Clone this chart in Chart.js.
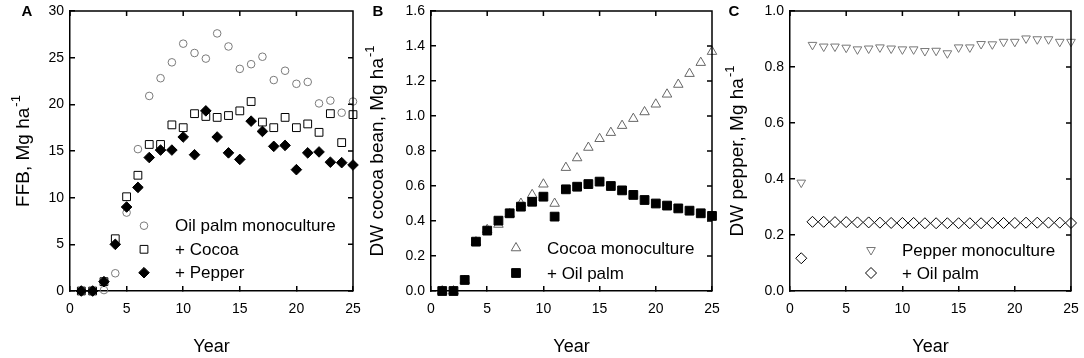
<!DOCTYPE html>
<html>
<head>
<meta charset="utf-8">
<script src="https://cdn.jsdelivr.net/npm/chart.js@4.4.1/dist/chart.umd.min.js"></script>
<style>
  body { margin: 0; background: #fff; }
  #wrap { position: relative; width: 1084px; height: 358px; overflow: hidden; }
  canvas { position: absolute; top: 0; }
</style>
</head>
<body>
<div id="wrap">
  <canvas id="chartA" width="361" height="358" style="left:0px"></canvas>
  <canvas id="chartB" width="359" height="358" style="left:361px"></canvas>
  <canvas id="chartC" width="359" height="358" style="left:720px"></canvas>
</div>
<script>
// 年份 (x)
let years = [1,2,3,4,5,6,7,8,9,10,11,12,13,14,15,16,17,18,19,20,21,22,23,24,25]
let xTicks = [0,5,10,15,20,25]

// A: FFB, Mg/ha
let palmMono   = [0,0,0.1,1.9,8.4,15.2,20.9,22.8,24.5,26.5,25.5,24.9,27.6,26.2,23.8,24.3,25.1,22.6,23.6,22.2,22.4,20.1,20.4,19.1,20.3]
let palmCocoa  = [0,0,1.0,5.6,10.1,12.4,15.7,15.7,17.8,17.5,19.0,18.7,18.6,18.8,19.3,20.3,18.1,17.5,18.6,17.5,17.9,17.0,19.0,15.9,18.9]
let palmPepper = [0,0,1.0,5.0,9.0,11.1,14.3,15.1,15.1,16.5,14.6,19.3,16.5,14.8,14.1,18.2,17.1,15.5,15.6,13.0,14.8,14.9,13.8,13.75,13.5]
let yTicksA = [0,5,10,15,20,25,30]

// B: DW cocoa bean
let cocoaMono = [0,0,0.06,0.28,0.35,0.38,0.44,0.50,0.55,0.61,0.50,0.705,0.76,0.82,0.87,0.905,0.945,0.985,1.023,1.067,1.124,1.18,1.242,1.305,1.368]
let cocoaPalm = [0,0,0.063,0.282,0.345,0.402,0.444,0.482,0.51,0.539,0.425,0.581,0.596,0.611,0.625,0.6,0.575,0.549,0.52,0.5,0.488,0.472,0.459,0.444,0.429]
let yTicksB = [0,0.2,0.4,0.6,0.8,1.0,1.2,1.4,1.6]

// C: DW pepper
let pepperMono = [0.387,0.879,0.873,0.873,0.869,0.863,0.866,0.87,0.866,0.863,0.863,0.857,0.858,0.849,0.87,0.87,0.882,0.881,0.89,0.89,0.902,0.899,0.899,0.89,0.89]
let pepperPalm = [0.117,0.247,0.247,0.246,0.246,0.245,0.245,0.244,0.243,0.243,0.243,0.242,0.242,0.242,0.242,0.242,0.242,0.243,0.243,0.243,0.244,0.244,0.244,0.244,0.243]
let yTicksC = [0,0.2,0.4,0.6,0.8,1.0]

const FONT = 'Arial, "Liberation Sans", sans-serif'
const LW = 1.5

function toXY(arr) {
    return arr.map(function(v, i){ return {x: years[i], y: v} })
}

// 畫點 (legend 用)
function drawMarker(ctx, st, x, y) {
    ctx.save()
    ctx.fillStyle = st.backgroundColor
    ctx.strokeStyle = st.borderColor
    ctx.lineWidth = 1
    if (Chart.helpers && Chart.helpers.drawPoint) {
        Chart.helpers.drawPoint(ctx, {pointStyle: st.pointStyle, radius: st.pointRadius, rotation: st.rotation || 0, borderWidth: 1}, x, y)
    } else {
        ctx.beginPath()
        ctx.arc(x, y, st.pointRadius, 0, Math.PI * 2)
        ctx.fill(); ctx.stroke()
    }
    ctx.restore()
}

// 上/右框線與刻度, y 標題, 圖例, 面板字母
const panelPlugin = {
    id: 'panel',
    afterDraw(chart, args, opts) {
        const ctx = chart.ctx
        const a = chart.chartArea
        const xs = chart.scales.x, ys = chart.scales.y
        ctx.save()
        ctx.strokeStyle = '#000'
        ctx.lineWidth = LW
        ctx.setLineDash([])
        ctx.beginPath()
        ctx.moveTo(a.left, a.top); ctx.lineTo(a.right, a.top); ctx.lineTo(a.right, a.bottom)
        xs.ticks.forEach(function(t){
            const px = xs.getPixelForValue(t.value)
            ctx.moveTo(px, a.top); ctx.lineTo(px, a.top + 5)
        })
        ys.ticks.forEach(function(t){
            const py = ys.getPixelForValue(t.value)
            ctx.moveTo(a.right, py); ctx.lineTo(a.right - 5, py)
        })
        ctx.stroke()

        // y 標題 (上標 -1)
        ctx.fillStyle = '#000'
        const yc = (a.top + a.bottom) / 2
        ctx.translate(opts.titleX, yc)
        ctx.rotate(-Math.PI / 2)
        ctx.textBaseline = 'alphabetic'
        ctx.textAlign = 'left'
        ctx.font = '19px ' + FONT
        const w1 = ctx.measureText(opts.title).width
        ctx.font = '13px ' + FONT
        const w2 = ctx.measureText('-1').width
        const start = -(w1 + w2 + 1) / 2
        ctx.font = '19px ' + FONT
        ctx.fillText(opts.title, start, 7)
        ctx.font = '13px ' + FONT
        ctx.fillText('-1', start + w1 + 1, -2)
        ctx.setTransform(1, 0, 0, 1, 0, 0)

        // 面板字母
        ctx.font = 'bold 15px ' + FONT
        ctx.textAlign = 'center'
        ctx.textBaseline = 'middle'
        ctx.fillText(opts.letter, opts.letterX, 12)

        // 圖例
        ctx.font = '17px ' + FONT
        ctx.textAlign = 'left'
        opts.legend.forEach(function(item, i){
            const st = chart.data.datasets[item.ds]
            const y = opts.legendY[i]
            drawMarker(ctx, st, opts.legendX, y)
            ctx.fillStyle = '#000'
            ctx.fillText(st.label, opts.legendX + 31, y + 1)
        })
        ctx.restore()
    }
}

function makeChart(id, datasets, yTicks, yMax, digits, panel) {
    const ctx = document.getElementById(id).getContext('2d')
    return new Chart(ctx, {
        type: 'scatter',
        data: { datasets: datasets },
        options: {
            responsive: false,
            animation: false,
            events: [],
            layout: { padding: { top: 11, right: 8, left: 0, bottom: 0 } },
            plugins: { legend: { display: false }, tooltip: { enabled: false }, panel: panel },
            scales: {
                x: {
                    type: 'linear', min: 0, max: 25,
                    grid: { display: true, drawOnChartArea: false, tickLength: -5, color: '#000', lineWidth: LW },
                    border: { display: true, color: '#000', width: LW },
                    afterBuildTicks: function(s){ s.ticks = xTicks.map(function(v){ return {value: v} }) },
                    ticks: { color: '#000', font: { family: FONT, size: 14 }, padding: 15, maxRotation: 0, callback: function(v){ return v } },
                    title: { display: true, text: 'Year', color: '#000', font: { family: FONT, size: 18 }, padding: { top: 0, bottom: 0 } },
                    afterFit: function(s){ s.height = 67; s.paddingLeft = 0; s.paddingRight = 0 }
                },
                y: {
                    type: 'linear', min: 0, max: yMax,
                    grid: { display: true, drawOnChartArea: false, tickLength: -5, color: '#000', lineWidth: LW },
                    border: { display: true, color: '#000', width: LW },
                    afterBuildTicks: function(s){ s.ticks = yTicks.map(function(v){ return {value: v} }) },
                    ticks: { color: '#000', font: { family: FONT, size: 14 }, padding: 11, callback: function(v){ return v.toFixed(digits) } },
                    afterFit: function(s){ s.width = 70; s.paddingTop = 0; s.paddingBottom = 0 }
                }
            }
        },
        plugins: [panelPlugin]
    })
}

const openStyle = 'rgba(255,255,255,0)'

// A
makeChart('chartA', [
    { label: 'Oil palm monoculture', data: toXY(palmMono), order: 3, clip: false, pointStyle: 'circle', pointRadius: 3.8, borderWidth: 1, borderColor: '#7a7a7a', backgroundColor: openStyle },
    { label: '+ Cocoa', data: toXY(palmCocoa), order: 2, clip: false, pointStyle: 'rect', pointRadius: 5.5, borderWidth: 1, borderColor: '#000', backgroundColor: openStyle },
    { label: '+ Pepper', data: toXY(palmPepper), order: 1, clip: false, pointStyle: 'rectRot', pointRadius: 5.3, borderWidth: 1, borderColor: '#000', backgroundColor: '#000' }
], yTicksA, 30, 0, {
    title: 'FFB, Mg ha', titleX: 22, letter: 'A', letterX: 27,
    legend: [{ds: 0}, {ds: 1}, {ds: 2}], legendX: 144, legendY: [225.7, 249.3, 272.7]
})

// B
makeChart('chartB', [
    { label: 'Cocoa monoculture', data: toXY(cocoaMono), order: 2, clip: false, pointStyle: 'triangle', pointRadius: 5.5, borderWidth: 1, borderColor: '#666', backgroundColor: openStyle },
    { label: '+ Oil palm', data: toXY(cocoaPalm), order: 1, clip: false, pointStyle: 'rect', pointRadius: 6.2, borderWidth: 1, borderColor: '#000', backgroundColor: '#000' }
], yTicksB, 1.6, 1, {
    title: 'DW cocoa bean, Mg ha', titleX: 15, letter: 'B', letterX: 17,
    legend: [{ds: 0}, {ds: 1}], legendX: 155, legendY: [248, 273]
})

// C
makeChart('chartC', [
    { label: 'Pepper monoculture', data: toXY(pepperMono), order: 2, clip: false, pointStyle: 'triangle', rotation: 180, pointRadius: 5, borderWidth: 1, borderColor: '#777', backgroundColor: openStyle },
    { label: '+ Oil palm', data: toXY(pepperPalm), order: 1, clip: false, pointStyle: 'rectRot', pointRadius: 5.5, borderWidth: 1, borderColor: '#000', backgroundColor: openStyle }
], yTicksC, 1.0, 1, {
    title: 'DW pepper, Mg ha', titleX: 16, letter: 'C', letterX: 14,
    legend: [{ds: 0}, {ds: 1}], legendX: 151, legendY: [250, 273]
})
</script>
</body>
</html>
